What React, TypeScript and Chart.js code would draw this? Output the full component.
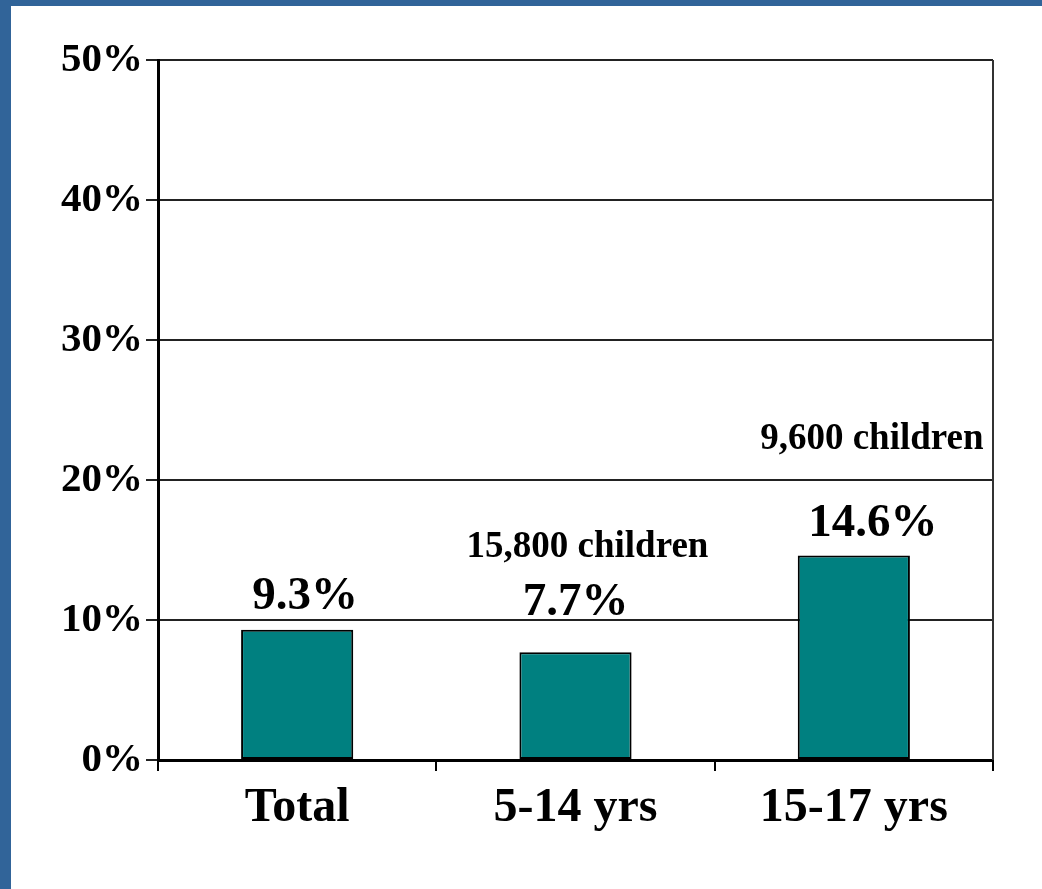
import React, { useEffect, useRef } from "react";
import { Chart, registerables } from "chart.js";

Chart.register(...registerables);

const categories = ["Total", "5-14 yrs", "15-17 yrs"];
const values = [9.3, 7.7, 14.6];
const valueLabels = ["9.3%", "7.7%", "14.6%"];
const childLabels = ["", "15,800 children", "9,600 children"];
const yTicks = [0, 10, 20, 30, 40, 50];

const SERIF = "'Liberation Serif', 'Times New Roman', serif";

export default function App() {
  const ref = useRef<HTMLCanvasElement | null>(null);

  useEffect(() => {
    if (!ref.current) return;

    const labelPlugin = {
      id: "barLabels",
      afterDatasetsDraw(chart: any) {
        const ctx = chart.ctx;
        const meta = chart.getDatasetMeta(0);
        const pctDx = [8, 0, 19];
        const pctDy = [-21, -37, -20];
        const chDx = [0, 12, 18];
        const chDy = [0, -95, -107];
        ctx.save();
        ctx.fillStyle = "#000";
        ctx.textAlign = "center";
        ctx.textBaseline = "alphabetic";
        meta.data.forEach((bar: any, i: number) => {
          ctx.font = `bold 47px ${SERIF}`;
          ctx.fillText(valueLabels[i], bar.x + pctDx[i], bar.y + pctDy[i]);
          if (childLabels[i]) {
            ctx.font = `bold 37px ${SERIF}`;
            ctx.fillText(childLabels[i], bar.x + chDx[i], bar.y + chDy[i]);
          }
        });
        ctx.restore();
      },
    };

    const framePlugin = {
      id: "frameRight",
      afterDraw(chart: any) {
        const { ctx, chartArea } = chart;
        ctx.save();
        ctx.strokeStyle = "#333";
        ctx.lineWidth = 2;
        ctx.beginPath();
        ctx.moveTo(chartArea.right, chartArea.top);
        ctx.lineTo(chartArea.right, chartArea.bottom);
        ctx.stroke();
        ctx.restore();
      },
    };

    const chart = new Chart(ref.current, {
      type: "bar",
      data: {
        labels: categories,
        datasets: [
          {
            data: values,
            backgroundColor: "#008080",
            borderColor: "#000",
            borderWidth: 2,
            borderSkipped: false,
            categoryPercentage: 1,
            barPercentage: 0.403,
          },
        ],
      },
      options: {
        animation: false,
        responsive: false,
        devicePixelRatio: 1,
        layout: { padding: { top: 60, right: 49, left: 0, bottom: 0 } },
        plugins: {
          legend: { display: false },
          tooltip: { enabled: false },
        },
        scales: {
          x: {
            grid: {
              display: true,
              drawOnChartArea: false,
              drawTicks: true,
              tickLength: 11,
              color: "#000",
              lineWidth: 2,
              offset: true,
            },
            border: { display: true, color: "#000", width: 3 },
            ticks: {
              color: "#000",
              padding: 9,
              font: { family: SERIF, size: 48, weight: "bold" },
              maxRotation: 0,
            },
            afterFit(axis: any) {
              axis.height = 129;
            },
          },
          y: {
            min: 0,
            max: 50,
            afterBuildTicks(axis: any) {
              axis.ticks = yTicks.map((v) => ({ value: v }));
            },
            grid: {
              color: "#222",
              lineWidth: 2,
              drawTicks: true,
              tickLength: 12,
            },
            border: { display: true, color: "#000", width: 3 },
            ticks: {
              color: "#000",
              padding: 3,
              font: { family: SERIF, size: 41, weight: "bold" },
              callback: (v: any) => `${v}%`,
            },
            afterFit(axis: any) {
              axis.width = 158;
            },
          },
        },
      },
      plugins: [labelPlugin, framePlugin],
    });

    return () => chart.destroy();
  }, []);

  return (
    <div
      style={{
        position: "fixed",
        left: 0,
        top: 0,
        width: 1042,
        height: 889,
        background: "#316499",
        overflow: "hidden",
      }}
    >
      <div
        style={{
          position: "absolute",
          left: 11,
          top: 6,
          right: 0,
          bottom: 0,
          background: "#fff",
        }}
      />
      <canvas
        ref={ref}
        width={1042}
        height={889}
        style={{ position: "absolute", left: 0, top: 0, width: 1042, height: 889 }}
      />
    </div>
  );
}
